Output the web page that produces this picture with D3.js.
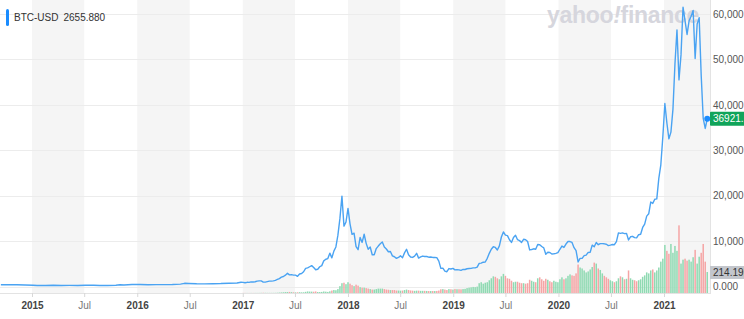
<!DOCTYPE html>
<html><head><meta charset="utf-8">
<script src="https://cdn.jsdelivr.net/npm/d3@7"></script>
<style>
html,body{margin:0;padding:0;background:#fff;}
svg{display:block;font-family:"Liberation Sans",Arial,Helvetica,sans-serif;}
</style></head><body>
<svg id="chart" width="744" height="319"></svg>
<script>
// ---------------- DATA ----------------
const seriesName = "BTC-USD";
const legendValue = "2655.880";
const lastPriceLabel = "36921.16";
const lastVolumeLabel = "214.19B";
const watermark = ["yahoo", "!", "finance"];

// sparse early closes (USD)
const earlyDates = ["2014-09-15","2014-10-13","2014-11-10","2014-12-08","2015-01-05","2015-01-19","2015-02-16","2015-03-16","2015-04-13","2015-05-11","2015-06-08","2015-07-06","2015-08-03","2015-08-24","2015-09-21","2015-10-19","2015-11-02","2015-11-16","2015-12-14","2016-01-11","2016-02-08","2016-03-07","2016-04-04","2016-05-02","2016-05-30","2016-06-13","2016-06-27","2016-07-25","2016-08-22","2016-09-19","2016-10-17","2016-11-14","2016-12-12","2016-12-26"];
const earlyPrices = [400,390,370,345,270,210,235,260,230,240,225,280,280,225,235,275,380,325,450,430,380,410,420,450,530,700,660,600,580,610,650,730,780,930];

// weekly closes from the week of 2017-01-02 (USD)
const weeklyStart = "2017-01-02";
const prices2017 = [910,820,920,915,1020, 1000,1050,1180,1230, 1230,965,970,1080, 1180,1180,1250,1350, 1550,1750,2050,2200,2500, 2900,2550,2600,2500, 2500,2250,2750,2850,3250, 4000,4100,4350,4600, 4200,3700,3800,4350, 4600,5650,6000,6150,7350, 6300,7800,8700,11300, 15000,19900,13300,14200];
const prices2018 = [17200,13800,11500,11750,8800, 8100,10800,9700,11500, 9500,8200,8700,7000, 7000,8350,8900,9400,9800, 8700,8250,7650,7700, 6750,6550,6200,6400, 6750,6350,7400,8200,7000, 6500,6400,6700,7300, 6250,6500,6700,6600, 6600,6450,6500,6400,6400, 6350,5600,4000,4050, 3400,3250,3950,3850,4000];
const prices2019 = [3650,3700,3650,3550, 3750,3750,3900,3950, 4000,4100,4100,4250, 5100,5150,5350,5400,6200, 7300,8200,8750,8600, 8050,8950,10900,12000, 11300,11200,10300,9700,10800, 11300,10300,10100,9700, 10400,10300,9900,8050,8150, 8300,8200,9250,9200, 8800,8500,7100,7550, 7500,7150,7200,7300,7450];
const prices2020 = [8200,8900,8600,9350, 9900,9900,9700,8550, 7900,5400,6200,6200,6800, 6900,7500,7550,9100, 8750,9700,9200,9450, 9450,9400,9300,9000,9100, 9250,9200,9900,11800, 11700,11800,11650,11700,10250, 10950,11050,10750,10700, 11400,11500,13000,13750, 15500,16000,18600,18300,19200, 19300,23800,26800,33000];
const prices2021 = [40300,36000,32500,34000, 39000,49000,56500,45500, 51000,61500,58500,55500,58500, 59500,60800,50200,57800, 59200,46500,37000,34800,36921];

// weekly volume from the week of 2017-01-02 (billions USD)
const volumes2017 = [1.0,1.0,0.9,0.8,1.0, 0.9,1.0,1.1,1.3, 1.8,2.5,2.0,1.6, 1.5,1.5,1.6,2.0, 3,4.5,6,7.5,9.5, 10,11,9,7.5, 6.5,7.5,8.5,7,7.5, 12,16,14.5,14, 13,16,10,9.5, 11,15.5,13.5,11,17, 25,30,28,40, 70,100,105,90];
const volumes2018 = [110,95,80,70,85, 75,60,55,55, 50,45,40,35, 35,40,45,45,45, 40,35,33,30, 30,30,25,25, 24,25,30,35,30, 26,24,22,24, 24,22,22,22, 21,20,20,20,20, 21,25,38,40, 35,30,40,38,35];
const volumes2019 = [40,38,38,37, 40,42,50,55, 58,62,60,65, 100,110,95,105,110, 130,150,170,165, 150,140,170,195, 175,150,145,125,110, 115,115,105,100, 100,95,100,135,125, 115,110,150,160, 140,125,145,135, 120,110,125,115,110];
const volumes2020 = [140,160,140,150, 175,190,180,175, 200,290,260,250,230, 210,220,240,265, 310,300,250,235, 200,175,160,145,130, 120,110,120,150, 170,160,140,145,230, 150,135,130,120, 130,140,165,180, 210,200,230,240,210, 230,260,320,350];
const volumes2021 = [490,430,400,500, 410,480,430,690, 300,340,350,330,340, 320,365,440,300, 370,410,500,320,214.19];

const priceTicks = [10000,20000,30000,40000,50000,60000];
const volumeTickLabel = "0.000";
const xTickDates = ["2015-01-01","2015-07-01","2016-01-01","2016-07-01","2017-01-01","2017-07-01","2018-01-01","2018-07-01","2019-01-01","2019-07-01","2020-01-01","2020-07-01","2021-01-01"];
const xTickLabels = ["2015","Jul","2016","Jul","2017","Jul","2018","Jul","2019","Jul","2020","Jul","2021"];
const bandYears = [2015,2016,2017,2018,2019,2020,2021];

// ---------------- BUILD ----------------
const parse = d3.timeParse("%Y-%m-%d");
const W = 744, H = 319, plotR = 710, plotB = 293;
const weeklyPrices = [].concat(prices2017, prices2018, prices2019, prices2020, prices2021);
const weeklyVolumes = [].concat(volumes2017, volumes2018, volumes2019, volumes2020, volumes2021);
const start = parse(weeklyStart);
const weekly = weeklyPrices.map((v, i) => ({date: d3.timeWeek.offset(start, i), value: v, volume: weeklyVolumes[i]}));
const early = earlyDates.map((d, i) => ({date: parse(d), value: earlyPrices[i]}));
const priceData = early.concat(weekly.map(d => ({date: d.date, value: d.value})));
weekly.forEach((d, i) => { const prev = i === 0 ? earlyPrices[earlyPrices.length - 1] : weekly[i - 1].value; d.up = d.value >= prev; });

const x = d3.scaleTime().domain([parse("2015-01-01"), parse("2021-01-01")]).range([32, 664]);
const y = d3.scaleLinear().domain([0, 60000]).range([286.5, 14]);
const yv = d3.scaleLinear().domain([0, 214.19]).range([plotB, 272]);

const svg = d3.select("#chart");
svg.append("rect").attr("width", W).attr("height", H).attr("fill", "#fff");
svg.append("defs").append("clipPath").attr("id", "plotclip")
  .append("rect").attr("x", 0).attr("y", 0).attr("width", plotR).attr("height", plotB);
const plot = svg.append("g").attr("clip-path", "url(#plotclip)");

// half-year bands
plot.selectAll("rect.band").data(bandYears).join("rect")
  .attr("class", "band")
  .attr("x", d => x(new Date(d, 0, 1)))
  .attr("width", d => x(new Date(d, 6, 1)) - x(new Date(d, 0, 1)))
  .attr("y", 0).attr("height", plotB)
  .attr("fill", "#f5f5f5");

// gridlines
plot.selectAll("line.grid").data([0].concat(priceTicks)).join("line")
  .attr("x1", 0).attr("x2", plotR)
  .attr("y1", d => Math.round(y(d)) + 0.5).attr("y2", d => Math.round(y(d)) + 0.5)
  .attr("stroke", "#ececec").attr("stroke-width", 1);

// watermark
const wm = plot.append("text").attr("x", 547).attr("y", 23)
  .attr("font-size", 23).attr("font-weight", 700).attr("fill", "#d6d6dd")
  .attr("letter-spacing", -0.3);
wm.append("tspan").text(watermark[0]);
wm.append("tspan").attr("font-style", "italic").text(watermark[1]);
wm.append("tspan").text(watermark[2]);

// volume bars
plot.selectAll("rect.vol").data(weekly).join("rect")
  .attr("class", "vol")
  .attr("x", d => x(d.date) - 0.75)
  .attr("width", 1.5)
  .attr("y", d => yv(d.volume))
  .attr("height", d => plotB - yv(d.volume))
  .attr("fill", d => d.up ? "#8fdab2" : "#f5a5a5");

// price line
const line = d3.line().x(d => x(d.date)).y(d => y(d.value));
plot.append("path").datum(priceData)
  .attr("d", line).attr("fill", "none")
  .attr("stroke", "#4aa3f2").attr("stroke-width", 1.4).attr("stroke-linejoin", "round");

// axes lines
svg.append("line").attr("x1", 0).attr("x2", plotR).attr("y1", plotB + 0.5).attr("y2", plotB + 0.5).attr("stroke", "#e3e3e3");
svg.append("line").attr("x1", plotR + 0.5).attr("x2", plotR + 0.5).attr("y1", 0).attr("y2", plotB + 1).attr("stroke", "#e3e3e3");

// bottom axis
const xAxis = d3.axisBottom(x).tickValues(xTickDates.map(parse))
  .tickFormat((d, i) => xTickLabels[i]).tickSize(4).tickPadding(5);
const gx = svg.append("g").attr("transform", `translate(0,${plotB})`).call(xAxis);
gx.select(".domain").remove();
gx.selectAll(".tick line").attr("stroke", "#d8d8d8");
gx.selectAll(".tick text").attr("font-size", 10).attr("font-family", "Liberation Sans, Arial, sans-serif")
  .attr("font-weight", (d, i) => xTickLabels[i] === "Jul" ? 400 : 700)
  .attr("fill", (d, i) => xTickLabels[i] === "Jul" ? "#777" : "#444");

// right axis
const yAxis = d3.axisRight(y).tickValues(priceTicks).tickFormat(d3.format(",")).tickSize(0).tickPadding(3);
const gy = svg.append("g").attr("transform", `translate(${plotR},0)`).call(yAxis);
gy.select(".domain").remove();
gy.selectAll(".tick text").attr("font-size", 10).attr("font-family", "Liberation Sans, Arial, sans-serif").attr("fill", "#555");
svg.append("text").attr("x", plotR + 3).attr("y", y(0)).attr("dy", "0.32em")
  .attr("font-size", 10).attr("fill", "#555").text(volumeTickLabel);

// volume tag
const lastW = weekly[weekly.length - 1];
svg.append("rect").attr("x", plotR).attr("y", yv(lastW.volume) - 6).attr("width", 40).attr("height", 13).attr("fill", "#c3c6cc");
svg.append("text").attr("x", plotR + 3).attr("y", yv(lastW.volume)).attr("dy", "0.35em")
  .attr("font-size", 10).attr("fill", "#333").text(lastVolumeLabel);

// price tag + marker
svg.append("rect").attr("x", plotR).attr("y", y(lastW.value) - 7).attr("width", 40).attr("height", 14).attr("rx", 1).attr("fill", "#10a45a");
svg.append("text").attr("x", plotR + 3).attr("y", y(lastW.value)).attr("dy", "0.35em")
  .attr("font-size", 10).attr("fill", "#fff").text(lastPriceLabel);
svg.append("circle").attr("cx", x(lastW.date)).attr("cy", y(lastW.value)).attr("r", 3).attr("fill", "#1a8cff");

// legend
svg.append("rect").attr("x", 6).attr("y", 9).attr("width", 3).attr("height", 17).attr("rx", 1.5).attr("fill", "#1a8cff");
const lg = svg.append("text").attr("x", 14).attr("y", 21).attr("font-size", 10).attr("fill", "#333");
lg.append("tspan").text(seriesName);
lg.append("tspan").attr("dx", 5).text(legendValue);
</script>
</body></html>
